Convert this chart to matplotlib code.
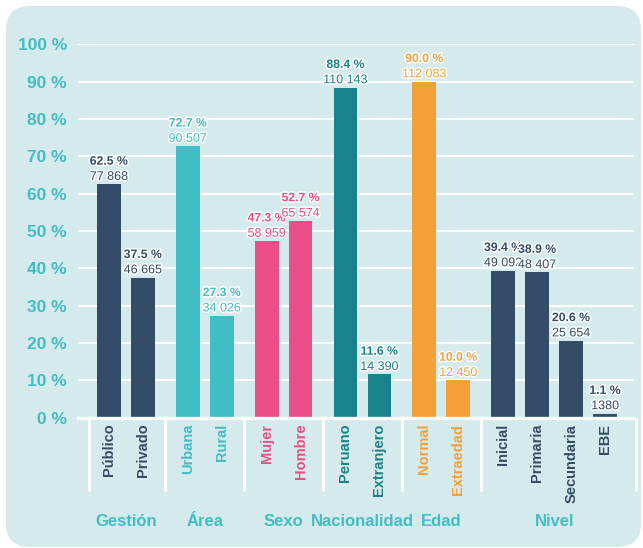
#!/usr/bin/env python3
# plot.py

import matplotlib
matplotlib.use("Agg")
import matplotlib.pyplot as plt
import matplotlib.patheffects as pe
from matplotlib.patches import FancyBboxPatch
from matplotlib.transforms import IdentityTransform

plt.rcParams["font.family"] = ["Liberation Sans", "DejaVu Sans"]

# Data
groups = ["Gestión", "Área", "Sexo", "Nacionalidad", "Edad", "Nivel"]
group_colors = ["#344c67", "#41bdc5", "#e94f86", "#1a828a", "#f5a13a", "#344c67"]
categories = [
    ["Público", "Privado"],
    ["Urbana", "Rural"],
    ["Mujer", "Hombre"],
    ["Peruano", "Extranjero"],
    ["Normal", "Extraedad"],
    ["Inicial", "Primaria", "Secundaria", "EBE"],
]
percents = [
    [62.5, 37.5],
    [72.7, 27.3],
    [47.3, 52.7],
    [88.4, 11.6],
    [90.0, 10.0],
    [39.4, 38.9, 20.6, 1.1],
]
counts = [
    ["77 868", "46 665"],
    ["90 507", "34 026"],
    ["58 959", "65 574"],
    ["110 143", "14 390"],
    ["112 083", "12 450"],
    ["49 092", "48 407", "25 654", "1380"],
]
yticks = [0, 10, 20, 30, 40, 50, 60, 70, 80, 90, 100]

BG = "#d4eaec"
TEAL = "#41bdc5"
GAP = 0.32


def plot(fig, ax):
    halo = [pe.withStroke(linewidth=2.2, foreground="white")]
    pos = 0.0
    seps = []
    group_centers = []
    first = None
    last = None
    for g, cats in enumerate(categories):
        xs = []
        for i, cat in enumerate(cats):
            xs.append(pos)
            pos += 1
        pos += GAP
        color = group_colors[g]
        ax.bar(xs, percents[g], width=0.7, color=color, zorder=3)
        for x, cat, p, c in zip(xs, cats, percents[g], counts[g]):
            ax.annotate(c, (x, p), xytext=(0, 1), textcoords="offset points",
                        ha="center", va="bottom", fontsize=9, color=color,
                        path_effects=halo, zorder=4)
            ax.annotate(f"{p:.1f} %", (x, p), xytext=(0, 12), textcoords="offset points",
                        ha="center", va="bottom", fontsize=8.8, fontweight="bold",
                        color=color, path_effects=halo, zorder=4)
            ax.text(x, -0.016, cat, transform=ax.get_xaxis_transform(),
                    rotation=90, ha="center", va="top", fontsize=10.5,
                    fontweight="bold", color=color)
        group_centers.append((xs[0] + xs[-1]) / 2)
        if first is None:
            first = xs[0]
        else:
            seps.append((prev_last + xs[0]) / 2)
        prev_last = xs[-1]
        last = xs[-1]

    seps = [first - 0.6] + seps + [last + 0.9]
    ax.vlines(seps, 0, -0.195, transform=ax.get_xaxis_transform(),
              color="white", lw=2.2, clip_on=False)

    for gx, name in zip(group_centers, groups):
        ax.text(gx, -0.279, name, transform=ax.get_xaxis_transform(),
                ha="center", va="center", fontsize=12, fontweight="bold",
                color=TEAL)

    ax.set_xlim(first - 0.91, last + 0.85)
    ax.set_ylim(0, 100)
    ax.set_yticks(yticks)
    ax.set_yticklabels([f"{t} %" for t in yticks])
    ax.tick_params(axis="y", length=0, pad=8, labelsize=12.5, labelcolor=TEAL)
    for lab in ax.get_yticklabels():
        lab.set_fontweight("bold")
    ax.set_xticks([])
    ax.grid(axis="y", color="white", lw=1.6, zorder=1)
    ax.set_axisbelow(True)
    ax.axhline(0, color="white", lw=2.4, zorder=5, clip_on=False)
    for s in ax.spines.values():
        s.set_visible(False)
    ax.set_facecolor("none")


def main():
    fig = plt.figure(figsize=(6.43, 5.48), dpi=100)
    panel = FancyBboxPatch((6, 1), 635, 541, boxstyle="round,pad=0,rounding_size=24",
                           transform=IdentityTransform(), facecolor=BG,
                           edgecolor="none", zorder=-10)
    fig.patches.append(panel)
    ax = fig.add_axes([78 / 643, 130.3 / 548, 556 / 643, 373.4 / 548])
    ax.set_zorder(1)
    plot(fig, ax)
    fig.savefig("out.png", dpi=100)


if __name__ == "__main__":
    main()
